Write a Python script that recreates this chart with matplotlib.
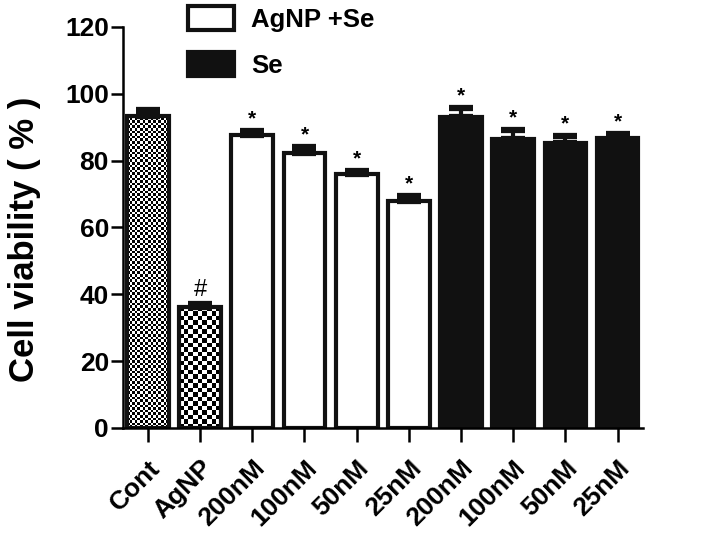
import matplotlib
matplotlib.use("Agg")
import matplotlib.pyplot as plt
import numpy as np
from matplotlib.patches import Patch

plt.rcParams["font.family"] = ["Liberation Sans", "DejaVu Sans"]
plt.rcParams["font.weight"] = "bold"

labels = ["Cont", "AgNP", "200nM", "100nM", "50nM", "25nM", "200nM", "100nM", "50nM", "25nM"]
viability = [93.5, 36.2, 87.8, 82.4, 76.0, 68.0, 93.0, 86.5, 85.3, 86.8]
sem = [1.5, 1.0, 1.0, 1.8, 1.0, 1.5, 2.6, 2.6, 2.0, 1.2]
groups = ["cont", "agnp", "agse", "agse", "agse", "agse", "se", "se", "se", "se"]
marks = ["", "#", "*", "*", "*", "*", "*", "*", "*", "*"]

fig = plt.figure(figsize=(7.27, 5.39), dpi=100)
ax = fig.add_axes([0.169, 0.206, 0.715, 0.744])
ax.set_xlim(-0.48, 9.48)
ax.set_ylim(0, 120)

x = np.arange(len(labels))
width = 0.8
face = {"cont": "none", "agnp": "none", "agse": "white", "se": "#111111"}
bars = ax.bar(x, viability, width=width, color=[face[g] for g in groups],
              edgecolor="#111111", linewidth=3, zorder=2)
ax.errorbar(x, viability, yerr=[np.zeros(len(sem)), sem], fmt="none",
            ecolor="#111111", elinewidth=3, capsize=8.5, capthick=4.5, zorder=3)


# checkerboard fills for the control and AgNP bars
def checker(bar, cell_px):
    x0, y0 = bar.get_x(), bar.get_y()
    w, h = bar.get_width(), bar.get_height()
    (px0, py0), (px1, py1) = ax.transData.transform([(x0, y0), (x0 + w, y0 + h)])
    ncols = max(1, int(round((px1 - px0) / cell_px)))
    nrows = max(1, int(round((py1 - py0) / cell_px)))
    board = (np.add.outer(np.arange(nrows), np.arange(ncols)) % 2).astype(float)
    im = ax.imshow(board, cmap="gray", vmin=0, vmax=1, interpolation="nearest",
                   extent=[x0, x0 + w, y0, y0 + h], aspect="auto", zorder=1.9)
    im.set_clip_path(bar)


checker(bars[0], 2.6)
checker(bars[1], 4.5)

for xi, v, e, m in zip(x, viability, sem, marks):
    if m:
        ax.text(xi, v + e + 0.8, m, ha="center", va="bottom",
                fontsize=17 if m == "#" else 15, fontweight="normal" if m == "#" else "bold")

ax.set_xlim(-0.48, 9.48)
ax.set_ylim(0, 120)
ax.set_yticks(range(0, 121, 20))
ax.set_xticks(x)
ax.set_xticklabels(labels, rotation=45, ha="right", rotation_mode="anchor",
                   fontsize=19, fontweight="bold")
ax.tick_params(axis="y", labelsize=19, width=1.8, length=9, pad=1)
ax.tick_params(axis="x", width=1.8, length=10, pad=10)
for s in ["top", "right"]:
    ax.spines[s].set_visible(False)
for s in ["left", "bottom"]:
    ax.spines[s].set_linewidth(1.8)
ax.set_ylabel("Cell viability ( % )", fontsize=25, fontweight="bold",
              va="center", ha="center")
ax.yaxis.set_label_coords(-0.19, 0.47)

handles = [Patch(facecolor="white", edgecolor="#111111", linewidth=3, label="AgNP +Se"),
           Patch(facecolor="#111111", edgecolor="#111111", linewidth=3, label="Se")]
fig.legend(handles=handles, loc="upper left", bbox_to_anchor=(188 / 727, 1 - 6 / 539),
           frameon=False, borderaxespad=0, borderpad=0,
           prop={"size": 18.5, "weight": "bold"}, handlelength=1.8, handleheight=1.05,
           labelspacing=0.8, handletextpad=0.65)

fig.savefig("out.png", dpi=100)
